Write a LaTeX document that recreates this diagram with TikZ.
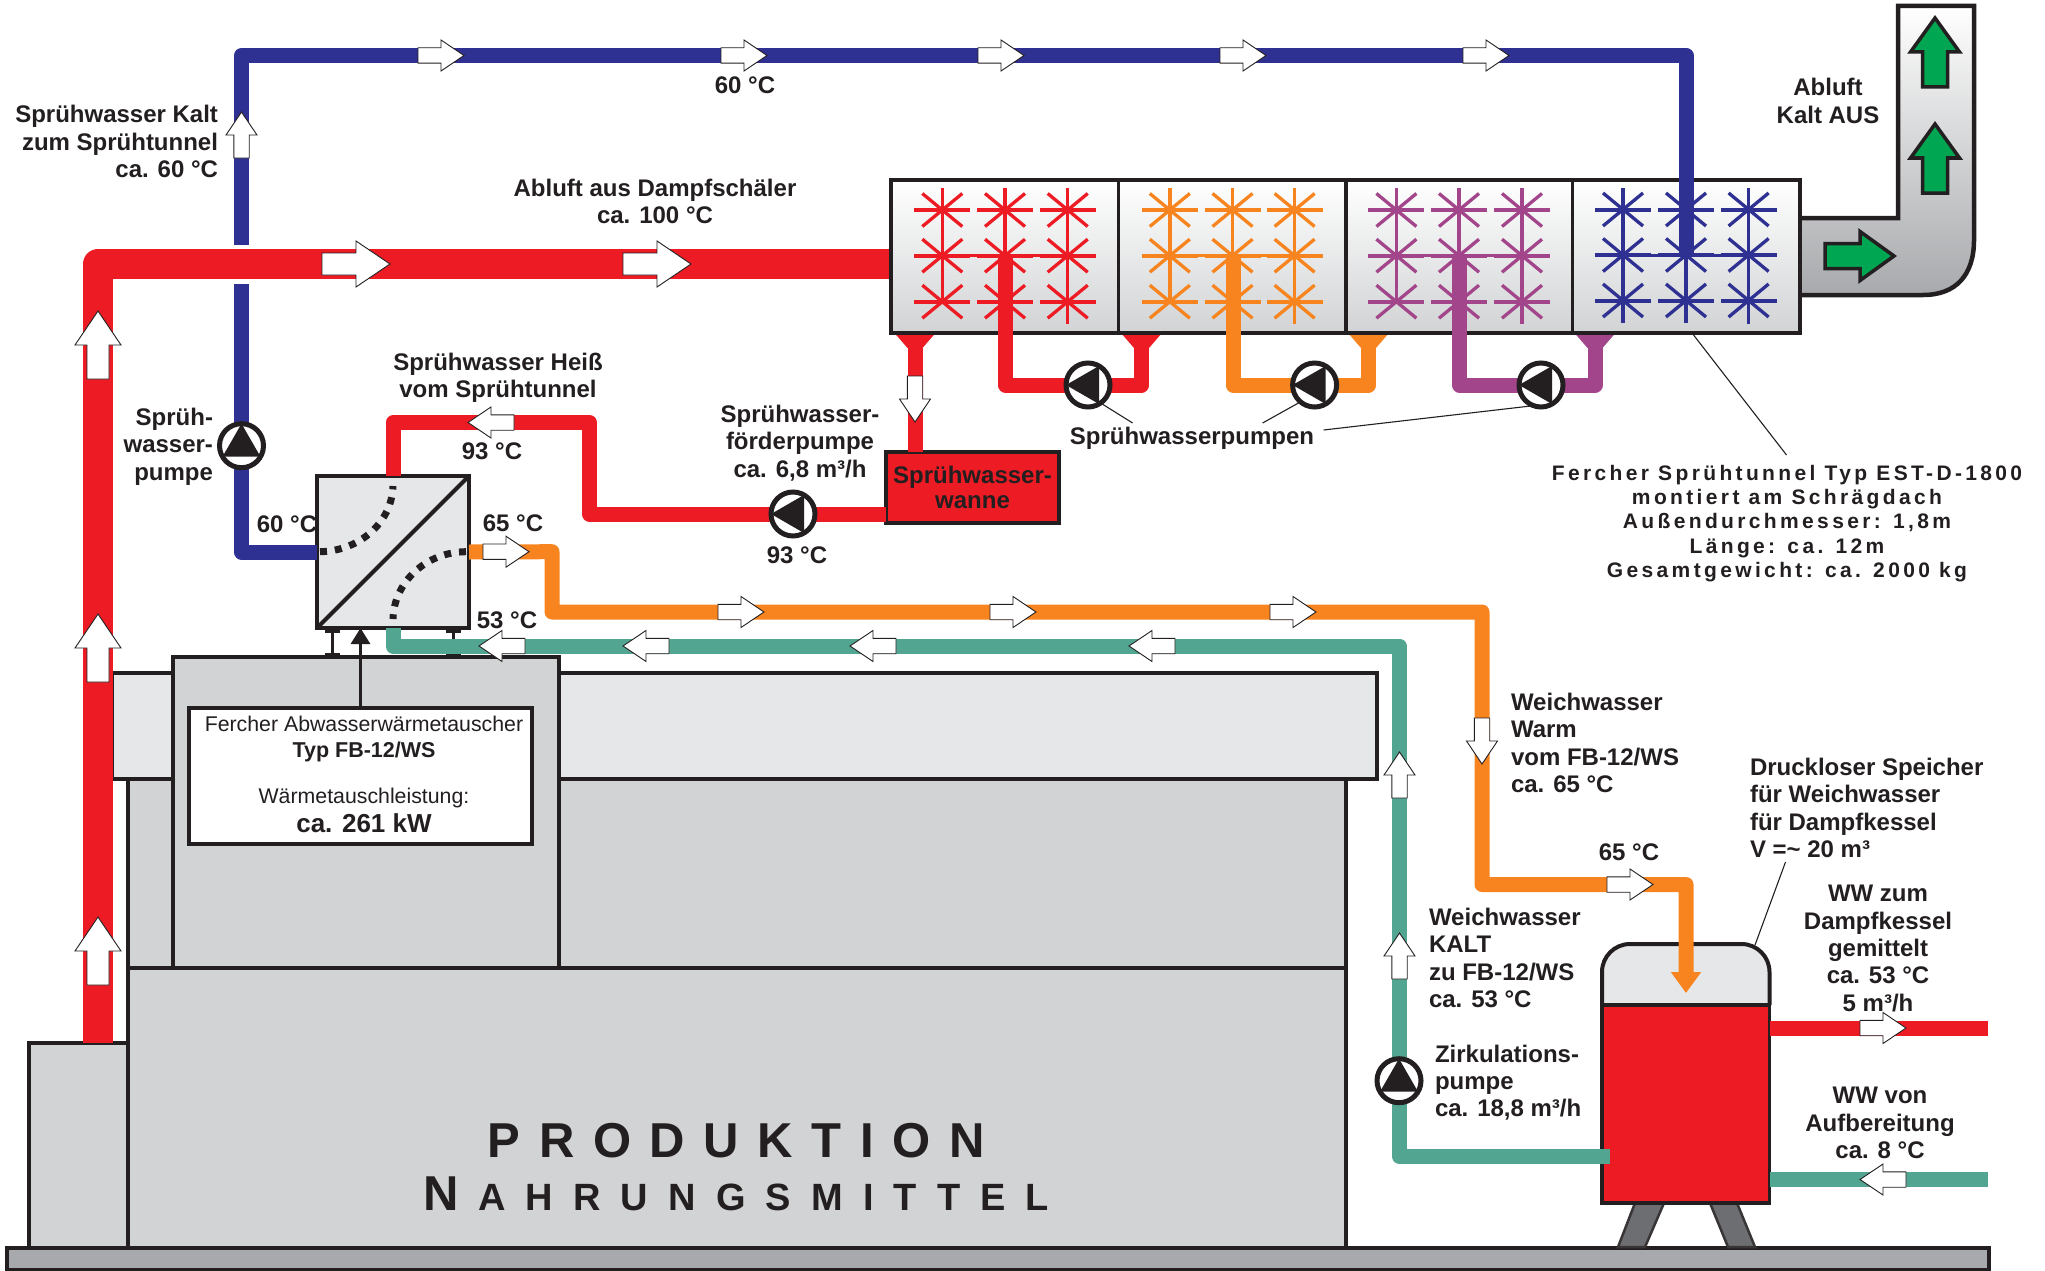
\documentclass[tikz,border=0pt]{standalone}
\usepackage{fontspec}
\setmainfont{Liberation Sans}
\newfontfamily\techfont[LetterSpace=16]{Liberation Sans}
\newfontfamily\prodfont[LetterSpace=38]{Liberation Sans}
\newfontfamily\smcfont[LetterSpace=53]{Liberation Sans}
\usetikzlibrary{arrows.meta}
\definecolor{cred}{HTML}{ED1C24}
\definecolor{cblue}{HTML}{2E3192}
\definecolor{corange}{HTML}{F7841E}
\definecolor{cpurple}{HTML}{A3458A}
\definecolor{cgreen}{HTML}{52A590}
\definecolor{cink}{HTML}{231F20}
\definecolor{cgreya}{HTML}{D1D3D4}
\definecolor{cgreyb}{HTML}{E6E7E8}
\definecolor{cgreyc}{HTML}{A7A9AC}
\definecolor{cleg}{HTML}{6D6E71}
\definecolor{carrow}{HTML}{00A651}
\tikzset{
  x=1pt,y=-1pt,
  block/.style={draw=cink,line width=3.5pt,fill=cgreya,inner sep=0pt,outer sep=0pt,anchor=north west},
  pipe/.style={line width=15pt,line join=round},
  bigpipe/.style={line width=30pt,line join=round,cred},
  flowarrow/.style={draw=cink,fill=white,line width=0.9pt,line join=miter},
  greenarrow/.style={draw=cink,fill=carrow,line width=3.5pt,line join=miter},
  pumpbody/.style={circle,draw=cink,fill=white,line width=5pt,minimum size=44pt,inner sep=0pt,outer sep=0pt},
  lbl/.style={inner sep=0pt,outer sep=0pt,text=cink,font=\fontsize{24}{27.3}\selectfont\bfseries},
  lblc/.style={lbl,align=center},
  lbll/.style={lbl,align=left,anchor=west},
  lblr/.style={lbl,align=right,anchor=east},
  leader/.style={draw=cink,line width=1.1pt},
  sect/.style={block,top color=white,bottom color=cgreya,minimum width=227.5pt,minimum height=153pt},
}
\newcommand\FA[3]{\begin{scope}[shift={(#1,#2)},rotate=#3]\draw[flowarrow] (0,-7.7)--(23,-7.7)--(23,-15.5)--(46,0)--(23,15.5)--(23,7.7)--(0,7.7)--cycle;\end{scope}}
\newcommand\FB[3]{\begin{scope}[shift={(#1,#2)},rotate=#3]\draw[flowarrow] (0,-11)--(34,-11)--(34,-23)--(68,0)--(34,23)--(34,11)--(0,11)--cycle;\end{scope}}
\newcommand\GA[3]{\begin{scope}[shift={(#1,#2)},rotate=#3]\draw[greenarrow] (0,-12.5)--(35,-12.5)--(35,-24.5)--(69,0)--(35,24.5)--(35,12.5)--(0,12.5)--cycle;\end{scope}}
\newcommand\Pump[4]{\node[pumpbody] (#1) at (#2,#3) {};
  \fill[cink,shift={(#2,#3)},rotate=#4] (22,0)--(-11,19)--(-11,-19)--cycle;}
% colour, 3 x centres, 3 y centres, bottom end of first column
\newcommand\Nozzles[8]{%
 \begin{scope}[#1]
 \draw[line width=3.5pt] (#2,188)--(#2,#8);
 \draw[line width=3.5pt] (#3,188)--(#3,323);
 \draw[line width=3.5pt] (#4,188)--(#4,324);
 \foreach \cx in {#2,#3,#4}{
   \foreach \cy in {#5,#6,#7}{
     \draw[line width=4pt] (\cx-28,\cy)--(\cx+28,\cy);
     \draw[line width=3.3pt] (\cx-20,\cy-16.5)--(\cx+20,\cy+16.5);
     \draw[line width=3.3pt] (\cx+20,\cy-16.5)--(\cx-20,\cy+16.5);
   }
 }
 \draw[line width=3pt] (#2-28,#6)--(#4+28,#6);
 \end{scope}}
\newcommand\Funnel[2]{\fill[#1] (#2-20.5,333)--(#2+20.5,333)--(#2+7.5,348)--(#2-7.5,348)--cycle;}
\begin{document}
\begin{tikzpicture}
\useasboundingbox (0,0) rectangle (2045,1271);
% building
\node[block,fill=cgreyc,minimum width=1982pt,minimum height=22pt] (floor) at (7,1248) {};
\node[block,minimum width=99pt,minimum height=205pt] (stack) at (29,1043) {};
\node[block,minimum width=1218pt,minimum height=189pt] (hall) at (128,779) {};
\node[block,minimum width=1218pt,minimum height=280pt] (hallb) at (128,968) {};
\node[block,fill=cgreyb,minimum width=1265pt,minimum height=106pt] (band) at (112,673) {};
\node[block,minimum width=386pt,minimum height=311pt] (roofbox) at (173,657) {};
\node[block,fill=white,minimum width=343pt,minimum height=136pt] (lbox) at (189,708) {};
% tank legs
\draw[fill=cleg,draw=cink!90,line width=2.5pt] (1635,1203)--(1664,1203)--(1645,1247)--(1618,1247)--cycle;
\draw[fill=cleg,draw=cink!90,line width=2.5pt] (1710,1203)--(1737,1203)--(1755,1247)--(1728,1247)--cycle;
% tank
\path[fill=cgreyb,rounded corners=28pt] (1602,1005)--(1602,944)--(1769.5,944)--(1769.5,1005);
\node[block,fill=cred,minimum width=167.5pt,minimum height=198pt] (tank) at (1602,1005) {};
\draw[draw=cink,line width=4pt,rounded corners=28pt] (1602,1005)--(1602,944)--(1769.5,944)--(1769.5,1005);
% heat exchanger
\node[block,fill=cgreyb,line width=4pt,minimum size=152pt] (hx) at (317,476) {};
\coordinate (ftL) at (332,628); \coordinate (fbL) at (332,655);
\coordinate (ftR) at (453,628); \coordinate (fbR) at (453,655);
\draw[draw=cink,line width=3pt] (ftL)--(fbL) (ftR)--(fbR);
\draw[draw=cink,line width=3.5pt] (325,631)--(340,631) (325,655)--(340,655) (446,631)--(461,631) (446,655)--(461,655);
\draw[draw=cink,line width=3pt,-{Triangle[length=16pt,width=19pt]}] (lbox.north)--(lbox.north |- hx.south);
% hot spray water
\node[block,fill=cred,minimum width=173pt,minimum height=71pt,font=\fontsize{24}{26.7}\selectfont\bfseries,text=cink,align=center] (wanne) at (886,452) {Sprühwasser-\\[-1pt]wanne};
\coordinate (rh1) at (589.5,422.5); \coordinate (rh2) at (589.5,514);
\draw[pipe,cred] (hx.north) |- (rh1) -- (rh2) -- (wanne.west |- rh2);
\coordinate (fw) at (915,348);
\draw[pipe,cred] (fw) -- (fw |- wanne.north);
% cooling circuit blue
\coordinate (bt1) at (1686,255); \coordinate (bt2) at (1686,55.5); \coordinate (bt3) at (241.5,55.5);
\coordinate (gapA) at (241.5,245); \coordinate (gapB) at (241.5,284);
\draw[pipe,cblue] (hx.west) -| (gapB);
\draw[pipe,cblue] (gapA) -- (bt3) -- (bt2) -- (bt1);
% air pipe
\coordinate (airA) at (98,1043); \coordinate (airB) at (98,264); \coordinate (airC) at (891,264);
\draw[bigpipe] (airA) -- (airB) -- (airC);
% tunnel
\Funnel{cred}{915}\Funnel{cred}{1141.5}\Funnel{corange}{1368.5}\Funnel{cpurple}{1595}
% duct
\path[top color=white,middle color=cgreyb!80!white,bottom color=cgreyc] (1800,218)--(1898,218)--(1898,6)--(1974,6)--(1974,240) .. controls (1974,275) and (1956,295) .. (1923,295)--(1800,295)--cycle;
\draw[draw=cink,line width=4.5pt,line join=miter] (1800,218)--(1898,218)--(1898,6)--(1974,6)--(1974,240) .. controls (1974,275) and (1956,295) .. (1923,295)--(1800,295);
\GA{1825}{256}{0}
\GA{1935}{87}{90}
\GA{1935}{193}{90}
\node[sect] (s1) at (891,180) {};
\node[sect] (s2) at (1118.5,180) {};
\node[sect,minimum width=226.5pt] (s3) at (1346,180) {};
\node[sect] (s4) at (1572.5,180) {};
\Nozzles{cred}{942.3}{1005}{1067.7}{210}{255.7}{301.7}{302}
\Nozzles{corange}{1169.8}{1232.5}{1294.6}{210}{255.7}{301.7}{302}
\Nozzles{cpurple}{1396.4}{1459}{1522}{210}{255.7}{301.7}{302}
\Nozzles{cblue}{1623}{1686}{1748.6}{209.5}{255}{300.5}{323}
\draw[pipe,cblue] (bt2) -- (bt1);
% pumps on tunnel
\coordinate (r1) at (1005.5,256); \coordinate (r2) at (1005.5,385); \coordinate (r3) at (1141.5,385); \coordinate (r4) at (1141.5,340);
\coordinate (o1) at (1233,256); \coordinate (o2) at (1233,385); \coordinate (o3) at (1368.5,385); \coordinate (o4) at (1368.5,340);
\coordinate (p1) at (1459.5,256); \coordinate (p2) at (1459.5,385); \coordinate (p3) at (1595,385); \coordinate (p4) at (1595,340);
\draw[pipe,cred] (r1)--(r2)--(r3)--(r4);
\draw[pipe,corange] (o1)--(o2)--(o3)--(o4);
\draw[pipe,cpurple] (p1)--(p2)--(p3)--(p4);
\Pump{pumpR}{1088}{385}{180}
\Pump{pumpO}{1314.6}{385}{180}
\Pump{pumpP}{1541}{385}{180}
% orange water
\coordinate (oa) at (552,551.7); \coordinate (ob) at (552,612); \coordinate (oc) at (1482,612); \coordinate (od) at (1482,884.5); \coordinate (oe) at (1686,884.5); \coordinate (of) at (1686,993);
\draw[pipe,corange,-{Triangle[length=21pt,width=29pt]}] (hx.east) -- (oa) -- (ob) -- (oc) -- (od) -- (oe) -- (of);
% green water
\coordinate (ga) at (393,646); \coordinate (gb) at (1399.5,646); \coordinate (gc) at (1399.5,1156.5); \coordinate (gd) at (1610,1156.5);
\draw[pipe,cgreen] (hx.south) -- (ga) -- (gb) -- (gc) -- (gd);
% external lines
\coordinate (wr) at (1988,1028); \coordinate (wg) at (1988,1179.5);
\draw[pipe,cred] (tank.east |- wr) -- (wr);
\draw[pipe,cgreen] (tank.east |- wg) -- (wg);
% hx inner
\draw[draw=cink,line width=4pt] (hx.south west)--(hx.north east);
\draw[draw=cink,line width=7pt,dash pattern=on 7pt off 8pt] (320,551.7) .. controls (360,551) and (392,522) .. (393,486);
\draw[draw=cink,line width=7pt,dash pattern=on 7pt off 8pt] (466,551.7) .. controls (426,552) and (394,582) .. (393,619);
% pumps
\Pump{pumpB}{241.5}{445.7}{90}
\Pump{pumpF}{793}{514}{180}
\Pump{pumpZ}{1399}{1080.7}{90}
% flow arrows
\FA{418}{55.5}{0}\FA{721}{55.5}{0}\FA{978}{55.5}{0}\FA{1220}{55.5}{0}\FA{1463}{55.5}{0}
\FA{241.5}{158}{90}
\FB{322}{264}{0}\FB{623}{264}{0}
\FB{98}{379}{90}\FB{98}{682}{90}\FB{98}{985}{90}
\FA{514}{422.5}{180}
\FA{915}{376}{-90}
\FA{483}{551.7}{0}
\FA{718}{612}{0}\FA{990}{612}{0}\FA{1270}{612}{0}
\FA{1482}{718}{-90}
\FA{1607}{884.5}{0}
\FA{525}{646}{180}\FA{669}{646}{180}\FA{896}{646}{180}\FA{1175}{646}{180}
\FA{1399.5}{798}{90}\FA{1399.5}{979}{90}
\FA{1860}{1028}{0}
\FA{1906}{1179.5}{180}
% labels
\node[lblr] (t1) at (218,141.5) {Sprühwasser Kalt\\zum Sprühtunnel\\ca. 60 °C};
\node[lblc] (t2) at (745,85.5) {60 °C};
\node[lblc] (t3) at (655,201.5) {Abluft aus Dampfschäler\\ca. 100 °C};
\node[lblc] (t4) at (1828,101) {Abluft\\Kalt AUS};
\node[lblc] (t5) at (498,378) {Sprühwasser Heiß\\vom Sprühtunnel};
\node[lblc] (t6) at (492,451.3) {93 °C};
\node[lblr] (t7) at (213,446.5) {Sprüh-\\wasser-\\pumpe};
\node[lblc] (t8) at (287,524.5) {60 °C};
\node[lblc] (t9) at (513,523.5) {65 °C};
\node[lblc] (t10) at (507,620.5) {53 °C};
\node[lblc] (t11) at (800,443) {Sprühwasser-\\förderpumpe\\ca. 6,8 m³/h};
\node[lblc] (t12) at (797,555) {93 °C};
\node[lblc] (t13) at (1192,438.6) {Sprühwasserpumpen};
\coordinate (l1) at (1132.6,423); \coordinate (l2) at (1262.6,423); \coordinate (l3) at (1323.6,430);
\draw[leader] (pumpR.-55)--(l1);
\draw[leader] (pumpO.-130)--(l2);
\draw[leader] (pumpP.-110)--(l3);
\coordinate (l4) at (1786.5,455);
\draw[leader] (s4.south east)++(-108,0)--(l4);
\node[inner sep=0pt,text=cink,align=center,font=\fontsize{21}{24.2}\techfont\bfseries] (t14) at (1787,523.5) {Fercher Sprühtunnel Typ EST-D-1800\\montiert am Schrägdach\\Außendurchmesser: 1,8m\\Länge: ca. 12m\\Gesamtgewicht: ca. 2000 kg};
\node[lbll] (t15) at (1511,743) {Weichwasser\\Warm\\vom FB-12/WS\\ca. 65 °C};
\node[lbll] (t16) at (1750,808) {Druckloser Speicher\\für Weichwasser\\für Dampfkessel\\V =\textasciitilde{} 20 m³};
\coordinate (l5) at (1785.5,862);
\draw[leader] (l5)--(1755,945);
\node[lblc] (t17) at (1629,852) {65 °C};
\node[lblc] (t18) at (1878,948.5) {WW zum\\Dampfkessel\\gemittelt\\ca. 53 °C\\5 m³/h};
\node[lbll] (t19) at (1429,958) {Weichwasser\\KALT\\zu FB-12/WS\\ca. 53 °C};
\node[lbll] (t20) at (1435,1082.5) {Zirkulations-\\pumpe\\ca. 18,8 m³/h};
\node[lblc] (t21) at (1880,1123) {WW von\\Aufbereitung\\ca. 8 °C};
\node[inner sep=0pt,text=cink,font=\fontsize{21.3}{26}\selectfont] (b1) at (364,724) {Fercher Abwasserwärmetauscher};
\node[lblc,font=\fontsize{21.5}{26}\selectfont\bfseries] (b2) at (364,751.5) {Typ FB-12/WS};
\node[inner sep=0pt,text=cink,font=\fontsize{21.3}{26}\selectfont] (b3) at (364,798) {Wärmetauschleistung:};
\node[lblc,font=\fontsize{26}{30}\selectfont\bfseries] (b4) at (364,823) {ca. 261 kW};
\node[inner sep=0pt,text=cink,anchor=base,font=\fontsize{49}{54}\prodfont\bfseries] (m1) at (736.3,1157) {PRODUKTION};
\node[inner sep=0pt,text=cink,anchor=base west,font=\fontsize{49}{54}\selectfont\bfseries] (m2) at (423,1210) {N\hspace{19.6pt}{\fontsize{38}{54}\smcfont\bfseries AHRUNGSMITTEL}};
\end{tikzpicture}
\end{document}
